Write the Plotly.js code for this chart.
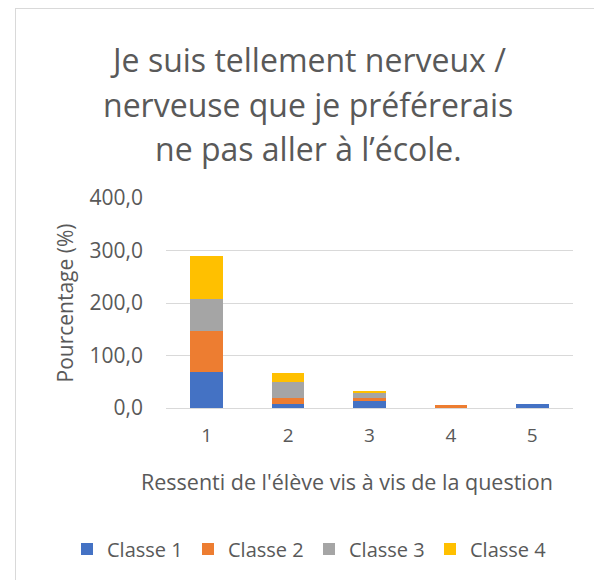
<!DOCTYPE html>
<html><head><meta charset="utf-8">
<script src="https://cdn.plot.ly/plotly-3.0.1.min.js"></script>
<style>
html,body{margin:0;padding:0;background:#fff;}
#wrap{position:relative;width:594px;height:580px;overflow:hidden;}
#chart{position:absolute;left:0;top:0;width:594px;height:580px;}
#frame{position:absolute;left:15px;top:8px;width:620px;height:620px;border:1px solid #d9d9d9;pointer-events:none;}
</style></head>
<body><div id="wrap"><div id="chart"></div><div id="frame"></div></div>
<script>
const categories = ['1','2','3','4','5'];
const seriesNames = ['Classe 1','Classe 2','Classe 3','Classe 4'];
const classe1 = [68.3, 7.7, 14.1, 0, 7.1];
const classe2 = [78.4, 10.8, 5.7, 4.8, 0];
const classe3 = [61.1, 30.1, 8.3, 0, 0];
const classe4 = [80.9, 17.2, 3.8, 0, 0];
const yTicks = [0,100,200,300,400];
const yTickLabels = ['0,0','100,0','200,0','300,0','400,0'];
const titleLines = ['Je suis tellement nerveux /','nerveuse que je préférerais','ne pas aller à l’école.'];
const xTitle = "Ressenti de l'élève vis à vis de la question";
const yTitle = 'Pourcentage (%)';
const colors = ['#4472c4','#ed7d31','#a5a5a5','#ffc000'];
const values = [classe1, classe2, classe3, classe4];
const FONT = '"Open Sans", sans-serif';
const TXT = '#595959';
const traces = values.map((v,i)=>({
  type:'bar', x:categories, y:v, name:seriesNames[i],
  marker:{color:colors[i], line:{width:0}}, hoverinfo:'none'
}));
// pixel helpers: plot area x 166..573, y 198..408
const px = x => (x-166)/407;
const py = y => (408-y)/210;
const titleY = [60,104,148];
const annotations = titleLines.map((t,i)=>({
  text:t, xref:'paper', yref:'paper', x:px(308), xanchor:'center',
  y:py(titleY[i]), yanchor:'middle', showarrow:false,
  font:{size:32, color:TXT, family:FONT}
}));
annotations.push({text:xTitle, xref:'paper', yref:'paper', x:px(346.5), xanchor:'center',
  y:py(481), yanchor:'middle', showarrow:false, font:{size:21.5, color:TXT, family:FONT}});
Plotly.newPlot('chart', traces, {
  width:594, height:580, barmode:'stack', bargap:0.6,
  paper_bgcolor:'rgba(0,0,0,0)', plot_bgcolor:'rgba(0,0,0,0)',
  margin:{l:166, r:21, t:198, b:172},
  font:{family:FONT, color:TXT},
  annotations:annotations,
  xaxis:{type:'category', tickfont:{size:19, color:TXT}, showgrid:false, showline:false, ticks:'', ticklabelstandoff:14},
  yaxis:{range:[0,400], tickvals:yTicks, ticktext:yTickLabels, tickfont:{size:21, color:TXT}, ticklabelstandoff:22,
    gridcolor:'#d9d9d9', gridwidth:1, zeroline:true, zerolinecolor:'#d9d9d9', zerolinewidth:1, showline:false, ticks:'', ticklen:0,
    title:{text:yTitle, font:{size:21, color:TXT}, standoff:10}},
  showlegend:true,
  legend:{orientation:'h', x:px(67), xref:'paper', xanchor:'left', y:py(549), yref:'paper', yanchor:'middle',
    font:{size:20, color:TXT}, traceorder:'normal', itemwidth:30, entrywidth:76, entrywidthmode:'pixels'}
}, {staticPlot:true});
</script></body></html>
